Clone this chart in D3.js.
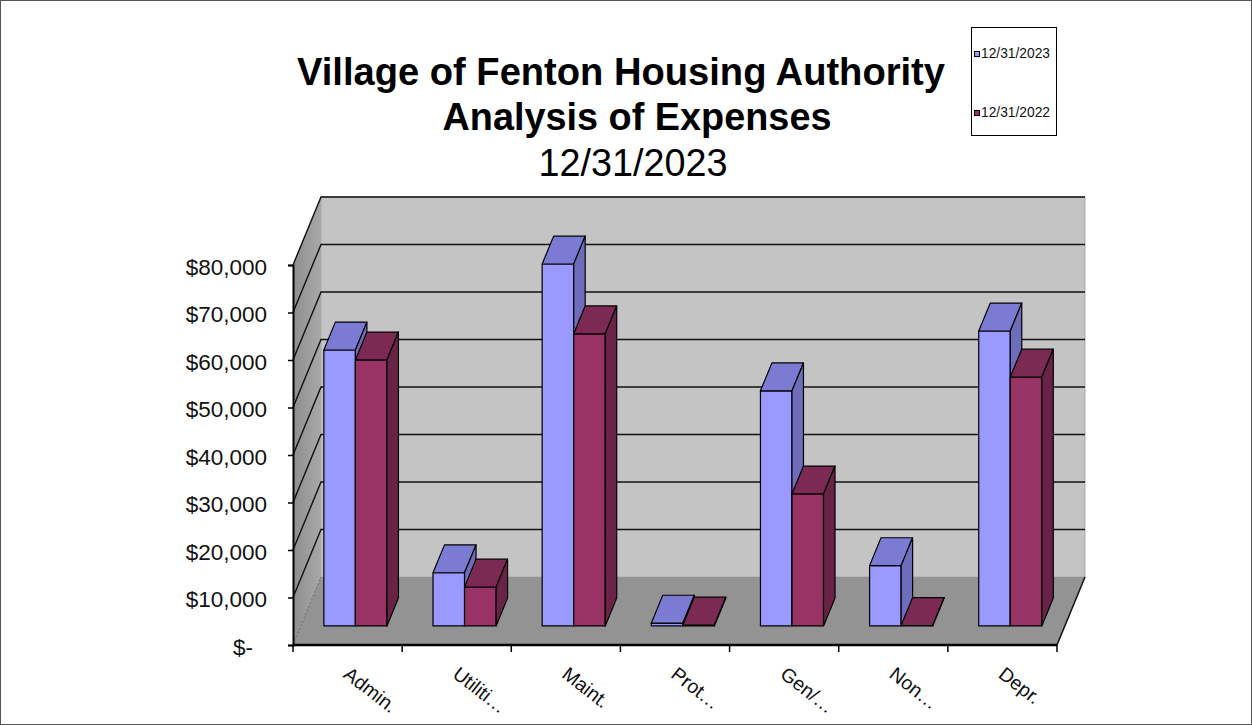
<!DOCTYPE html>
<html lang="en">
<head>
    <meta charset="UTF-8">
    <title>Village of Fenton Housing Authority - Analysis of Expenses</title>
    <script src="https://d3js.org/d3.v7.min.js"></script>
    <style>
        body { margin: 0; background: #fff; }
        text { font-family: "Liberation Sans", Arial, sans-serif; }
    </style>
</head>
<body>
    <svg id="chart" width="1252" height="725"></svg>

    <script>
        // chart data
        const categories = ['Admin.', 'Utiliti\u2026', 'Maint.', 'Prot\u2026', 'Gen/\u2026', 'Non\u2026', 'Depr.'];
        const seriesNames = ['12/31/2023', '12/31/2022'];
        const values2023 = [58100, 11200, 76200, 600, 49500, 12700, 62100];
        const values2022 = [56000, 8200, 61500, 200, 27800, 100, 52400];
        const yTicks = [0, 10000, 20000, 30000, 40000, 50000, 60000, 70000, 80000];
        const titleLines = ['Village of Fenton Housing Authority', 'Analysis of Expenses', '12/31/2023'];

        const svg = d3.select('#chart');

        // frame round the whole picture
        svg.append('rect')
            .attr('x', 0.5).attr('y', 0.5)
            .attr('width', 1251).attr('height', 724)
            .attr('fill', '#fff')
            .attr('stroke', '#555');

        // front plane of the 3d box
        const left = 293, right = 1057;
        const DX = 28, DY = -68;          // full depth offset
        const f0 = 0.28, f1 = 0.69;       // bar front / back depth

        const x = d3.scaleBand().domain(categories).range([left, right]);
        const xSeries = d3.scaleBand().domain(seriesNames).range([0, x.bandwidth()]).paddingOuter(0.73);
        const y = d3.scaleLinear().domain([0, 80000]).range([645, 265]);

        const P = (px, v, f) => [px + f * DX, y(v) + f * DY];
        const poly = pts => 'M' + pts.map(p => p.join(',')).join('L') + 'Z';

        // left wall, slightly shaded
        const defs = svg.append('defs');
        const grad = defs.append('linearGradient').attr('id', 'sideWall')
            .attr('x1', 0).attr('y1', 0).attr('x2', 1).attr('y2', 0);
        grad.append('stop').attr('offset', 0).attr('stop-color', '#8e8e8e');
        grad.append('stop').attr('offset', 1).attr('stop-color', '#a8a8a8');

        svg.append('path')
            .attr('d', poly([P(left, 0, 0), P(left, 80000, 0), P(left, 80000, 1), P(left, 0, 1)]))
            .attr('fill', 'url(#sideWall)');

        // back wall
        svg.append('path')
            .attr('d', poly([P(left, 0, 1), P(left, 80000, 1), P(right, 80000, 1), P(right, 0, 1)]))
            .attr('fill', '#c4c4c4')
            .attr('stroke', '#aaa');

        // floor
        svg.append('path')
            .attr('d', poly([P(left, 0, 0), P(right, 0, 0), P(right, 0, 1), P(left, 0, 1)]))
            .attr('fill', '#939393');

        svg.append('path')
            .attr('d', poly([P(left, 0, 0), P(left, 0, 1)]))
            .attr('stroke', '#777')
            .attr('stroke-dasharray', '2,2');

        // gridlines on back and left wall
        const grid = svg.append('g').attr('stroke', '#111').attr('stroke-width', 1.4).attr('fill', 'none');
        yTicks.filter(d => d > 0).forEach(v => {
            grid.append('path').attr('d', 'M' + P(left, v, 0).join(',') + 'L' + P(left, v, 1).join(',') + 'L' + P(right, v, 1).join(','));
        });

        // floor right edge
        svg.append('path')
            .attr('d', 'M' + P(right, 0, 0).join(',') + 'L' + P(right, 0, 1).join(','))
            .attr('stroke', '#111').attr('stroke-width', 1.5);

        // bars
        const colors = {
            '12/31/2023': { front: '#9999ff', top: '#7b7bd4', side: '#6d6dbb' },
            '12/31/2022': { front: '#993366', top: '#7c2954', side: '#692347' }
        };
        const bars = [];
        categories.forEach((c, i) => {
            bars.push({ cat: c, series: seriesNames[0], value: values2023[i] });
            bars.push({ cat: c, series: seriesNames[1], value: values2022[i] });
        });

        const barG = svg.selectAll('.bar')
            .data(bars)
            .enter().append('g')
            .attr('class', 'bar')
            .attr('stroke', '#000')
            .attr('stroke-width', 1.2)
            .attr('stroke-linejoin', 'round');

        barG.append('path')
            .attr('fill', d => colors[d.series].front)
            .attr('d', d => {
                const x0 = x(d.cat) + xSeries(d.series), x1 = x0 + xSeries.bandwidth();
                return poly([P(x0, 0, f0), P(x1, 0, f0), P(x1, d.value, f0), P(x0, d.value, f0)]);
            });
        barG.append('path')
            .attr('fill', d => colors[d.series].top)
            .attr('d', d => {
                const x0 = x(d.cat) + xSeries(d.series), x1 = x0 + xSeries.bandwidth();
                return poly([P(x0, d.value, f0), P(x1, d.value, f0), P(x1, d.value, f1), P(x0, d.value, f1)]);
            });
        barG.append('path')
            .attr('fill', d => colors[d.series].side)
            .attr('d', d => {
                const x1 = x(d.cat) + xSeries(d.series) + xSeries.bandwidth();
                return poly([P(x1, 0, f0), P(x1, d.value, f0), P(x1, d.value, f1), P(x1, 0, f1)]);
            });

        // y axis
        const yAxis = svg.append('g')
            .attr('transform', `translate(${left},0)`)
            .call(d3.axisLeft(y).tickValues(yTicks).tickSize(5).tickPadding(21)
                .tickFormat(d => d === 0 ? '$-' : d3.format('$,')(d)));
        yAxis.select('.domain').attr('stroke', '#000').attr('stroke-width', 2);
        yAxis.selectAll('.tick line').attr('stroke', '#000').attr('stroke-width', 1.5);
        yAxis.selectAll('.tick text')
            .attr('font-size', 22.5)
            .attr('fill', '#111')
            .attr('dy', '0.42em')
            .attr('x', d => d === 0 ? -40 : -26);

        // x axis (ticks at category boundaries)
        const boundaries = categories.map(c => x(c)).concat([right]);
        svg.append('path')
            .attr('d', `M${left},${y(0)}H${right}`)
            .attr('stroke', '#000').attr('stroke-width', 2.5);
        svg.selectAll('.xtick')
            .data(boundaries)
            .enter().append('line')
            .attr('class', 'xtick')
            .attr('x1', d => d).attr('x2', d => d)
            .attr('y1', y(0)).attr('y2', y(0) + 7)
            .attr('stroke', '#000').attr('stroke-width', 1.5);

        svg.selectAll('.xlabel')
            .data(categories)
            .enter().append('text')
            .attr('class', 'xlabel')
            .attr('transform', d => `translate(${x(d) + x.bandwidth() / 2 - 1},671) rotate(38)`)
            .attr('dy', '0.35em')
            .attr('font-size', 19.5)
            .attr('fill', '#111')
            .text(d => d);

        // title
        const titleSpec = [
            { cx: 621, y: 85, size: 38, weight: 'bold', len: 648 },
            { cx: 637, y: 130, size: 38, weight: 'bold', len: 389 },
            { cx: 633, y: 176, size: 38, weight: 'normal', len: 189 }
        ];
        svg.selectAll('.title')
            .data(titleLines)
            .enter().append('text')
            .attr('class', 'title')
            .attr('x', (d, i) => titleSpec[i].cx)
            .attr('y', (d, i) => titleSpec[i].y)
            .attr('text-anchor', 'middle')
            .attr('font-size', (d, i) => titleSpec[i].size)
            .attr('font-weight', (d, i) => titleSpec[i].weight)
            .attr('textLength', (d, i) => titleSpec[i].len)
            .attr('lengthAdjust', 'spacingAndGlyphs')
            .attr('fill', '#000')
            .text(d => d);

        // legend
        const legend = svg.append('g');
        legend.append('rect')
            .attr('x', 971.5).attr('y', 27.5)
            .attr('width', 85).attr('height', 108)
            .attr('fill', '#fff').attr('stroke', '#000');
        const legendItem = legend.selectAll('.legend-item')
            .data(seriesNames)
            .enter().append('g')
            .attr('class', 'legend-item')
            .attr('transform', (d, i) => `translate(974,${58 + i * 59})`);
        legendItem.append('rect')
            .attr('x', 0.5).attr('y', -6.5)
            .attr('width', 5).attr('height', 5)
            .attr('fill', d => colors[d].front)
            .attr('stroke', '#000');
        legendItem.append('text')
            .attr('x', 7)
            .attr('font-size', 14)
            .attr('textLength', 69)
            .attr('lengthAdjust', 'spacingAndGlyphs')
            .attr('fill', '#111')
            .text(d => d);
    </script>
</body>
</html>
